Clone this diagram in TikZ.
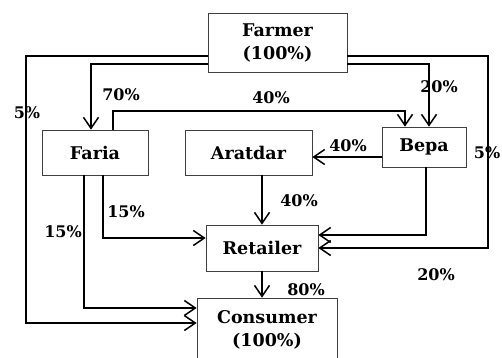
\documentclass[tikz,border=0pt]{standalone}
\usepackage{fontspec}
\setmainfont{DejaVu Serif}
\usetikzlibrary{arrows.meta}
\begin{document}
\begin{tikzpicture}[x=1pt, y=-1pt, >={Straight Barb[length=11pt, width=15pt]},
    line width=1.5pt, font=\fontsize{16}{22}\selectfont\bfseries,
    box/.style={draw, line width=0.7pt, draw=black!75, align=center, inner sep=0pt,
                font=\fontsize{17.5}{23}\selectfont\bfseries}]
  \useasboundingbox (0,0) rectangle (502,357);
  \clip (0,0) rectangle (502,357);

  \node[box, minimum width=139pt, minimum height=59pt] (farmer)   at (277.5, 42.5) {Farmer \\ (100\%)};
  \node[box, minimum width=106pt, minimum height=45pt] (faria)    at (95, 152.5)   {Faria};
  \node[box, minimum width=127pt, minimum height=45pt] (aratdar)  at (248.5, 152.5) {Aratdar};
  \node[box, minimum width=84pt,  minimum height=40pt] (bepa)     at (424, 147)    {Bepa};
  \node[box, minimum width=112pt, minimum height=46pt] (retailer) at (262, 248)    {Retailer};
  \node[box, minimum width=140pt, minimum height=64pt] (consumer) at (267, 330)    {Consumer \\ (100\%)};

  % bend points
  \coordinate (lt) at (26, 56);   \coordinate (lb) at (26, 323);
  \coordinate (rt) at (488, 56);  \coordinate (rb) at (488, 248);
  \coordinate (fa) at (91, 64);   \coordinate (be) at (429, 64);
  \coordinate (fb1) at (113, 111); \coordinate (fb2) at (405, 111);
  \coordinate (ba) at (0, 157);   \coordinate (br) at (426, 235);
  \coordinate (fr) at (103, 238); \coordinate (fc) at (84, 308);

  \draw[->] (farmer.west |- lt) -- (lt) -- (lb) -- (consumer.west |- lb);
  \draw[->] (farmer.west |- fa) -- (fa) -- (fa |- faria.north);
  \draw[->] (farmer.east |- be) -- (be) -- (be |- bepa.north);
  \draw[->] (farmer.east |- rt) -- (rt) -- (rb) -- (retailer.east |- rb);
  \draw[->] (fb1 |- faria.north) -- (fb1) -- (fb2) -- (fb2 |- bepa.north);
  \draw[->] (bepa.west |- ba) -- (aratdar.east |- ba);
  \draw[->] (br |- bepa.south) -- (br) -- (retailer.east |- br);
  \draw[->] (aratdar.south -| retailer.north) -- (retailer.north);
  \draw[->] (retailer.south) -- (retailer.south |- consumer.north);
  \draw[->] (fr |- faria.south) -- (fr) -- (retailer.west |- fr);
  \draw[->] (fc |- faria.south) -- (fc) -- (consumer.west |- fc);

  \node at (27, 113)  {5\%};
  \node at (121, 95)  {70\%};
  \node at (271, 98)  {40\%};
  \node at (439, 87)  {20\%};
  \node at (348, 146) {40\%};
  \node[anchor=east, inner sep=0pt] at (501, 153) {5\%};
  \node at (126, 212) {15\%};
  \node at (63, 232)  {15\%};
  \node at (299, 201) {40\%};
  \node at (306, 290) {80\%};
  \node at (436, 275) {20\%};
\end{tikzpicture}
\end{document}
